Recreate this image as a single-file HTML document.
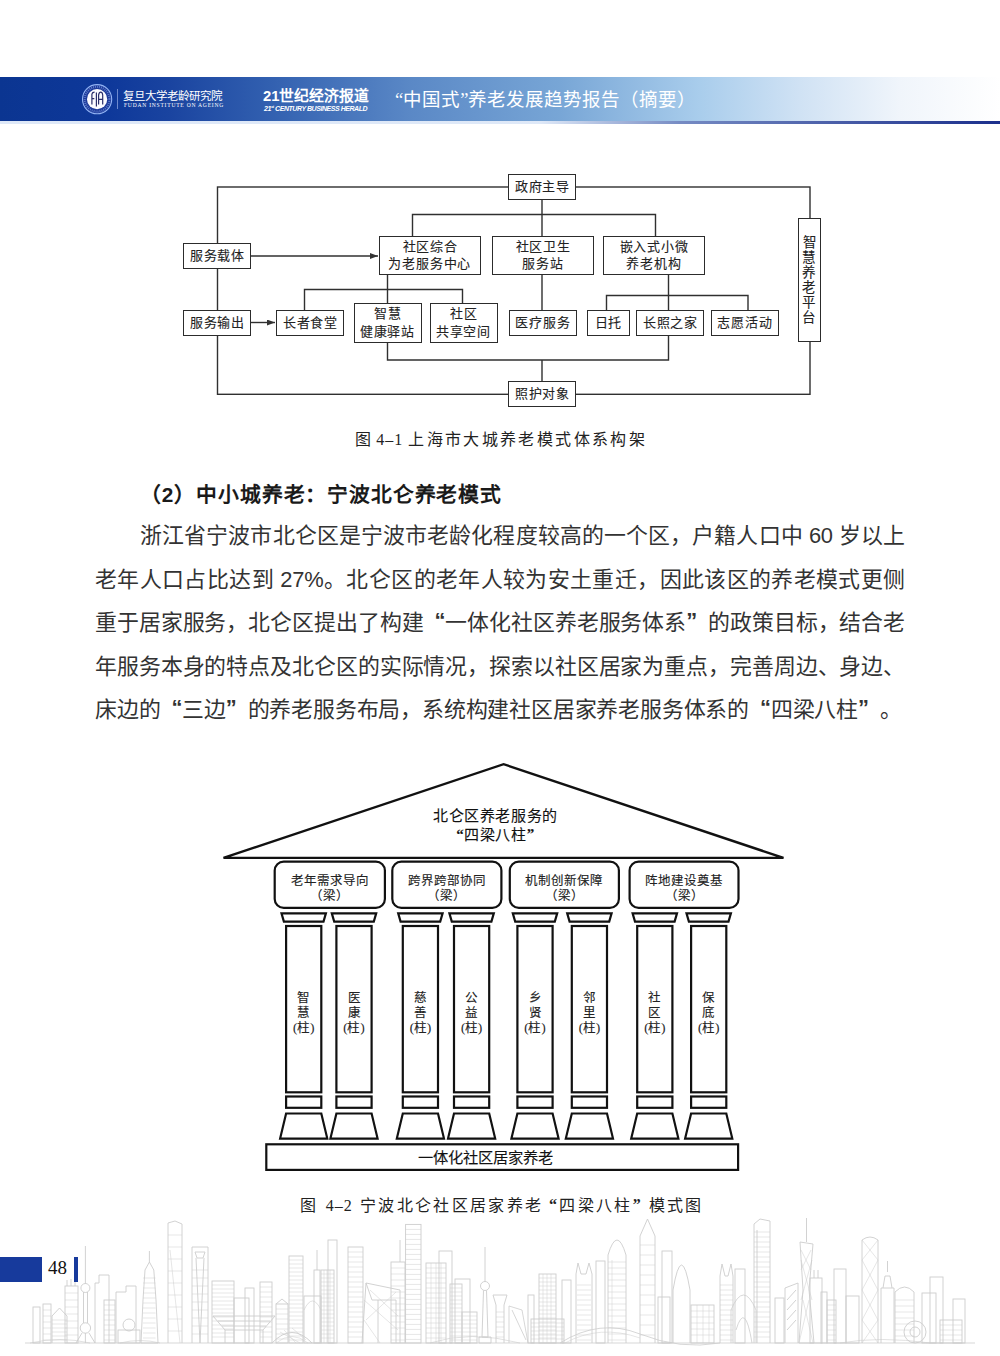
<!DOCTYPE html>
<html lang="zh-CN">
<head>
<meta charset="utf-8">
<style>
html,body{margin:0;padding:0;background:#fff;}
body{width:1000px;height:1356px;position:relative;overflow:hidden;font-family:"Liberation Sans",sans-serif;color:#222;}
.abs{position:absolute;}
#band{position:absolute;left:0;top:77px;width:1000px;height:44px;
 background:linear-gradient(to right,#0b3591 0px,#0e389a 110px,#1a44a0 170px,#3260b0 270px,#5a88c6 410px,#78a6d6 560px,#a9cdec 700px,#d0e2f4 800px,#f0f5fb 900px,#ffffff 1000px);}
#bandline{position:absolute;left:0;top:121px;width:1000px;height:2.5px;
 background:linear-gradient(to right,rgba(190,210,240,0.5) 0px,rgba(190,210,240,0.5) 540px,rgba(60,90,170,0.7) 680px,#1b2f8c 1000px);}
.wt{color:#fff;position:absolute;white-space:nowrap;}
.para{position:absolute;font-size:21.9px;line-height:26px;letter-spacing:-0.2px;color:#333;white-space:nowrap;text-align:justify;text-align-last:justify;}
.q1{display:inline-block;width:1em;text-align:right;text-align-last:right;}
.q2{display:inline-block;width:1em;text-align:left;text-align-last:left;}
.cap .q1,.cap .q2,.f2t .q1,.f2t .q2{font-weight:bold;position:relative;top:-1px;}
.para .q1,.para .q2{font-weight:bold;position:relative;top:-2px;font-size:1em;width:21.8px;}
.bx{position:absolute;box-sizing:border-box;border:1.6px solid #2c2c2c;background:#fff;font-family:"Liberation Serif",serif;font-size:13px;line-height:17.5px;letter-spacing:0.8px;text-indent:0.8px;color:#222;text-align:center;display:flex;align-items:center;justify-content:center;white-space:nowrap;-webkit-text-stroke:0.1px #222;}
.cap{position:absolute;font-family:"Liberation Serif",serif;font-size:16px;line-height:22px;letter-spacing:2.35px;color:#222;white-space:nowrap;}
.beam{position:absolute;box-sizing:border-box;border:2.3px solid #111;border-radius:10px;background:#fff;font-family:"Liberation Serif",serif;font-size:12.5px;line-height:15px;color:#222;text-align:center;padding-top:10px;}
.f2t{font-family:"Liberation Serif",serif;color:#222;white-space:nowrap;-webkit-text-stroke:0.12px #222;}
.ct{position:absolute;font-family:"Liberation Serif",serif;font-size:12.5px;line-height:15.5px;color:#222;text-align:center;width:40px;}
</style>
</head>
<body>
<!-- header -->
<div id="band"></div>
<div id="bandline"></div>
<svg class="abs" style="left:80px;top:82px" width="36" height="36" viewBox="0 0 36 36">
 <circle cx="17.1" cy="17.2" r="14.6" fill="#1d3a9a" stroke="#93b4f4" stroke-width="1.1"/>
 <circle cx="17.1" cy="17.2" r="12.4" fill="none" stroke="#6f8fd8" stroke-width="2.2" stroke-dasharray="0.9 1.1" opacity="0.8"/>
 <circle cx="17.1" cy="17.2" r="10.1" fill="#fbfbff"/>
 <path d="M11.9 22.6 V12.2 Q12.3 10.2 14.6 10.2 M11.9 16.6 H14.3 M16.4 24.4 V10.6 M18.6 22.6 V13 Q19.2 10.2 20.7 10.2 Q22.3 10.2 22.7 13 V22.6 M18.6 17.4 H22.7" stroke="#2b2f6a" stroke-width="1.2" fill="none"/>
</svg>
<div class="abs" style="left:117px;top:89px;width:1px;height:20px;background:rgba(170,190,240,0.6);"></div>
<div class="wt" style="left:123px;top:88.5px;font-family:'Liberation Serif',serif;font-size:11.5px;line-height:14px;letter-spacing:0px;">复旦大学老龄研究院</div>
<div class="wt" style="left:124px;top:102px;font-family:'Liberation Serif',serif;font-size:5.6px;line-height:7px;letter-spacing:0.75px;">FUDAN INSTITUTE ON AGEING</div>
<div class="wt" style="left:263px;top:87.5px;font-family:'Liberation Sans',sans-serif;font-weight:bold;font-size:14.8px;line-height:17px;">21世纪经济报道</div>
<div class="wt" style="left:264px;top:103.5px;font-family:'Liberation Sans',sans-serif;font-weight:bold;font-style:italic;font-size:7px;line-height:9px;letter-spacing:-0.45px;">21<sup style="font-size:4px;vertical-align:3px;line-height:0">st</sup> CENTURY BUSINESS HERALD</div>
<div class="wt" style="left:395px;top:89px;font-family:'Liberation Serif',serif;font-size:18.5px;line-height:22px;">“中国式”养老发展趋势报告（摘要）</div>

<!-- figure 1 -->
<svg class="abs" style="left:0;top:0" width="1000" height="450">
 <defs><marker id="ar" markerWidth="8" markerHeight="6" refX="8" refY="3" orient="auto" markerUnits="userSpaceOnUse"><path d="M0 0 L8 3 L0 6 Z" fill="#333"/></marker></defs>
 <g stroke="#303030" stroke-width="1.4" fill="none">
  <rect x="217.5" y="187" width="592.5" height="207.3"/>
  <line x1="251" y1="256" x2="378" y2="256" marker-end="url(#ar)"/>
  <line x1="251" y1="322.5" x2="275" y2="322.5" marker-end="url(#ar)"/>
  <line x1="542" y1="199" x2="542" y2="236"/>
  <line x1="542" y1="274" x2="542" y2="310"/>
  <line x1="542" y1="360" x2="542" y2="381"/>
  <polyline points="412.5,236 412.5,214.5 655.5,214.5 655.5,236"/>
  <polyline points="304.5,310 304.5,289.5 462.5,289.5 462.5,303"/>
  <line x1="387.5" y1="274" x2="387.5" y2="303"/>
  <polyline points="387.5,342 387.5,360 668.5,360 668.5,335"/>
  <line x1="668.5" y1="274" x2="668.5" y2="310"/>
  <polyline points="606.5,310 606.5,295.5 748,295.5 748,310"/>
 </g>
</svg>
<div class="bx" style="left:508px;top:174px;width:68px;height:25.5px;">政府主导</div>
<div class="bx" style="left:183px;top:243px;width:68px;height:25.5px;">服务载体</div>
<div class="bx" style="left:183px;top:310px;width:68px;height:25.5px;">服务输出</div>
<div class="bx" style="left:379px;top:236px;width:101.5px;height:38.5px;">社区综合<br>为老服务中心</div>
<div class="bx" style="left:492px;top:236px;width:101.5px;height:38.5px;">社区卫生<br>服务站</div>
<div class="bx" style="left:603px;top:236px;width:101.5px;height:38.5px;">嵌入式小微<br>养老机构</div>
<div class="bx" style="left:276px;top:310px;width:68px;height:25.5px;">长者食堂</div>
<div class="bx" style="left:353.5px;top:303px;width:68px;height:39.5px;">智慧<br>健康驿站</div>
<div class="bx" style="left:429.5px;top:303px;width:68px;height:39.5px;">社区<br>共享空间</div>
<div class="bx" style="left:508.5px;top:310px;width:68px;height:25.5px;">医疗服务</div>
<div class="bx" style="left:586.5px;top:310px;width:43px;height:25.5px;">日托</div>
<div class="bx" style="left:636px;top:310px;width:68px;height:25.5px;">长照之家</div>
<div class="bx" style="left:710.5px;top:310px;width:68px;height:25.5px;">志愿活动</div>
<div class="bx" style="left:797.5px;top:218px;width:23.5px;height:123.5px;line-height:15px;font-size:13.5px;">智<br>慧<br>养<br>老<br>平<br>台</div>
<div class="bx" style="left:508px;top:381px;width:68px;height:25.5px;">照护对象</div>
<div class="cap" style="left:355px;top:429px;">图<span style="margin-left:3px;margin-right:5px;font-family:'Liberation Serif',serif;letter-spacing:1px">4–1</span>上海市大城养老模式体系构架</div>

<!-- heading + paragraph -->
<div class="abs" style="left:140px;top:482.5px;font-size:20.8px;line-height:24px;letter-spacing:0.85px;font-weight:bold;color:#1a1a1a;white-space:nowrap;">（2）中小城养老：宁波北仑养老模式</div>
<div class="para" style="left:140px;top:523px;width:765px;">浙江省宁波市北仑区是宁波市老龄化程度较高的一个区，户籍人口中 60 岁以上</div>
<div class="para" style="left:95px;top:566.6px;width:810px;">老年人口占比达到 27%。北仑区的老年人较为安土重迁，因此该区的养老模式更侧</div>
<div class="para" style="left:95px;top:610.2px;width:810px;">重于居家服务，北仑区提出了构建<span class="q1">“</span>一体化社区养老服务体系<span class="q2">”</span>的政策目标，结合老</div>
<div class="para" style="left:95px;top:653.8px;width:810px;">年服务本身的特点及北仑区的实际情况，探索以社区居家为重点，完善周边、身边、</div>
<div class="para" style="left:95px;top:697.4px;width:810px;text-align-last:left;">床边的<span class="q1">“</span>三边<span class="q2">”</span>的养老服务布局，系统构建社区居家养老服务体系的<span class="q1">“</span>四梁八柱<span class="q2">”</span>。</div>

<!-- figure 2 -->
<svg class="abs" style="left:0;top:0" width="1000" height="1200">
<g stroke="#111" stroke-width="2.2" fill="none" stroke-linejoin="miter">
<polygon points="223.5,857.9 503.6,764.2 783.5,857.9" stroke-width="2.4"/>
<rect x="274.7" y="861.6" width="110.2" height="46.3" rx="9" ry="9"/>
<rect x="392.3" y="861.6" width="109.1" height="46.3" rx="9" ry="9"/>
<rect x="509.8" y="861.6" width="109.1" height="46.3" rx="9" ry="9"/>
<rect x="629.6" y="861.6" width="108.9" height="46.3" rx="9" ry="9"/>
<polygon points="281.5,913.4 325.9,913.4 323.5,921.6 283.9,921.6"/>
<rect x="286.1" y="926" width="35.2" height="166.3"/>
<rect x="286.1" y="1096.5" width="35.2" height="11.3"/>
<polygon points="286.1,1113.5 321.3,1113.5 327.3,1138.6 280.1,1138.6"/>
<polygon points="331.8,913.4 376.2,913.4 373.8,921.6 334.2,921.6"/>
<rect x="336.4" y="926" width="35.2" height="166.3"/>
<rect x="336.4" y="1096.5" width="35.2" height="11.3"/>
<polygon points="336.4,1113.5 371.6,1113.5 377.6,1138.6 330.4,1138.6"/>
<polygon points="398.2,913.4 442.6,913.4 440.2,921.6 400.6,921.6"/>
<rect x="402.8" y="926" width="35.2" height="166.3"/>
<rect x="402.8" y="1096.5" width="35.2" height="11.3"/>
<polygon points="402.8,1113.5 438.0,1113.5 444.0,1138.6 396.8,1138.6"/>
<polygon points="449.4,913.4 493.8,913.4 491.4,921.6 451.8,921.6"/>
<rect x="454.0" y="926" width="35.2" height="166.3"/>
<rect x="454.0" y="1096.5" width="35.2" height="11.3"/>
<polygon points="454.0,1113.5 489.2,1113.5 495.2,1138.6 448.0,1138.6"/>
<polygon points="512.8,913.4 557.2,913.4 554.8,921.6 515.2,921.6"/>
<rect x="517.4" y="926" width="35.2" height="166.3"/>
<rect x="517.4" y="1096.5" width="35.2" height="11.3"/>
<polygon points="517.4,1113.5 552.6,1113.5 558.6,1138.6 511.4,1138.6"/>
<polygon points="567.2,913.4 611.6,913.4 609.2,921.6 569.6,921.6"/>
<rect x="571.8" y="926" width="35.2" height="166.3"/>
<rect x="571.8" y="1096.5" width="35.2" height="11.3"/>
<polygon points="571.8,1113.5 607.0,1113.5 613.0,1138.6 565.8,1138.6"/>
<polygon points="632.6,913.4 677.0,913.4 674.6,921.6 635.0,921.6"/>
<rect x="637.2" y="926" width="35.2" height="166.3"/>
<rect x="637.2" y="1096.5" width="35.2" height="11.3"/>
<polygon points="637.2,1113.5 672.4,1113.5 678.4,1138.6 631.2,1138.6"/>
<polygon points="686.5,913.4 730.9,913.4 728.5,921.6 688.9,921.6"/>
<rect x="691.1" y="926" width="35.2" height="166.3"/>
<rect x="691.1" y="1096.5" width="35.2" height="11.3"/>
<polygon points="691.1,1113.5 726.3,1113.5 732.3,1138.6 685.1,1138.6"/>
<rect x="266.3" y="1144.3" width="471.8" height="25.6"/>
</g></svg>
<div class="abs f2t" style="left:395.5px;top:806.5px;width:200px;text-align:center;font-size:15px;line-height:19px;letter-spacing:0.6px;color:#111;">北仑区养老服务的<br><span class="q1">“</span>四梁八柱<span class="q2">”</span></div>
<div class="abs f2t" style="left:273.6px;top:874px;width:112.4px;text-align:center;font-size:12.5px;line-height:15px;">老年需求导向<br>（梁）</div>
<div class="abs f2t" style="left:391.2px;top:874px;width:111.3px;text-align:center;font-size:12.5px;line-height:15px;">跨界跨部协同<br>（梁）</div>
<div class="abs f2t" style="left:508.7px;top:874px;width:111.3px;text-align:center;font-size:12.5px;line-height:15px;">机制创新保障<br>（梁）</div>
<div class="abs f2t" style="left:628.5px;top:874px;width:111.1px;text-align:center;font-size:12.5px;line-height:15px;">阵地建设奠基<br>（梁）</div>
<div class="abs f2t" style="left:283.7px;top:990.5px;width:40px;text-align:center;font-size:12.5px;line-height:15px;">智<br>慧<br>(柱)</div>
<div class="abs f2t" style="left:334.0px;top:990.5px;width:40px;text-align:center;font-size:12.5px;line-height:15px;">医<br>康<br>(柱)</div>
<div class="abs f2t" style="left:400.4px;top:990.5px;width:40px;text-align:center;font-size:12.5px;line-height:15px;">慈<br>善<br>(柱)</div>
<div class="abs f2t" style="left:451.6px;top:990.5px;width:40px;text-align:center;font-size:12.5px;line-height:15px;">公<br>益<br>(柱)</div>
<div class="abs f2t" style="left:515.0px;top:990.5px;width:40px;text-align:center;font-size:12.5px;line-height:15px;">乡<br>贤<br>(柱)</div>
<div class="abs f2t" style="left:569.4px;top:990.5px;width:40px;text-align:center;font-size:12.5px;line-height:15px;">邻<br>里<br>(柱)</div>
<div class="abs f2t" style="left:634.8px;top:990.5px;width:40px;text-align:center;font-size:12.5px;line-height:15px;">社<br>区<br>(柱)</div>
<div class="abs f2t" style="left:688.7px;top:990.5px;width:40px;text-align:center;font-size:12.5px;line-height:15px;">保<br>底<br>(柱)</div>
<div class="abs f2t" style="left:400px;top:1148.5px;width:170px;text-align:center;font-size:15.3px;line-height:18px;color:#111;">一体化社区居家养老</div>
<div class="cap" style="left:299.5px;top:1195px;">图<span style="margin-left:8px;margin-right:7px;font-family:'Liberation Serif',serif;letter-spacing:1px">4–2</span>宁波北仑社区居家养老<span class="q1">“</span>四梁八柱<span class="q2">”</span>模式图</div>

<!-- skyline -->
<svg class="abs" style="left:0;top:0" width="1000" height="1356"><g stroke="#cdcdcd" stroke-width="0.9" fill="none"><rect x="33" y="1307" width="7" height="36"/><rect x="43" y="1304" width="8" height="39"/><path d="M43 1310.0H51M43 1316.0H51M43 1322.0H51M43 1328.0H51M43 1334.0H51M43 1340.0H51" stroke-width="0.5"/><path d="M52 1343V1316L59.5 1308L67 1316V1343"/><path d="M52 1320.0H67M52 1324.0H67M52 1328.0H67M52 1332.0H67M52 1336.0H67M52 1340.0H67" stroke-width="0.5"/><rect x="65" y="1286" width="13" height="57"/><path d="M65 1293.0H78M65 1300.0H78M65 1307.0H78M65 1314.0H78M65 1321.0H78M65 1328.0H78M65 1335.0H78" stroke-width="0.5"/><path d="M67 1286V1280M71 1286V1279M75 1286V1281"/><path d="M85.4 1246V1284M83.5 1292V1323M87.5 1292V1323M82 1333L76 1343M89 1333L95 1343M85.4 1333V1343"/><circle cx="85.4" cy="1288" r="4.5"/><circle cx="85.4" cy="1328" r="5.2"/><path d="M95 1343V1283L99 1283V1275H109V1343"/><rect x="104" y="1300" width="11" height="43"/><path d="M104 1305.0H115M104 1310.0H115M104 1315.0H115M104 1320.0H115M104 1325.0H115M104 1330.0H115M104 1335.0H115M104 1340.0H115" stroke-width="0.5"/><path d="M116 1343V1292H126V1286H136V1343"/><circle cx="129" cy="1325" r="6"/><rect x="118" y="1330" width="22" height="13"/><path d="M149.4 1251V1262M145 1270L149.4 1262L153.8 1270L156 1300L158 1343H141L143 1300Z"/><path d="M143 1278.0H155.5M143 1283.0H155.5M143 1288.0H155.5M143 1293.0H155.5M143 1298.0H155.5M143 1303.0H155.5M143 1308.0H155.5M143 1313.0H155.5M143 1318.0H155.5M143 1323.0H155.5M143 1328.0H155.5M143 1333.0H155.5M143 1338.0H155.5" stroke-width="0.5"/><path d="M168 1343V1223L175 1221L182 1224V1343"/><path d="M170 1250L180 1343" stroke-width="0.5"/><path d="M168 1235.0H182M168 1247.0H182M168 1259.0H182M168 1271.0H182M168 1283.0H182M168 1295.0H182M168 1307.0H182M168 1319.0H182M168 1331.0H182" stroke-width="0.5"/><path d="M192 1343V1247H208V1343M195 1252H205L203 1258H197ZM196 1258L200 1343M204 1258L200 1343"/><path d="M192 1270.0H208M192 1278.0H208M192 1286.0H208M192 1294.0H208M192 1302.0H208M192 1310.0H208M192 1318.0H208M192 1326.0H208M192 1334.0H208" stroke-width="0.5"/><rect x="212" y="1281" width="22" height="62"/><path d="M212 1285.0H234M212 1289.0H234M212 1293.0H234M212 1297.0H234M212 1301.0H234M212 1305.0H234M212 1309.0H234M212 1313.0H234M212 1317.0H234M212 1321.0H234M212 1325.0H234M212 1329.0H234M212 1333.0H234M212 1337.0H234" stroke-width="0.5"/><rect x="234" y="1298" width="15" height="45"/><rect x="245" y="1288" width="9" height="55"/><rect x="260" y="1282" width="12" height="61"/><path d="M260 1287.0H272M260 1292.0H272M260 1297.0H272M260 1302.0H272M260 1307.0H272M260 1312.0H272M260 1317.0H272M260 1322.0H272M260 1327.0H272M260 1332.0H272M260 1337.0H272" stroke-width="0.5"/><path d="M213 1316H275L263 1330H225ZM225 1330V1343M263 1330V1343M218 1321H270M222 1326H266"/><path d="M272 1343Q292 1322 312 1343"/><path d="M276 1343Q292 1330 308 1343M280 1332L300 1343M292 1328L306 1340M284 1330L296 1343" stroke-width="0.5"/><rect x="276" y="1304" width="12" height="39"/><path d="M276 1309.0H288M276 1314.0H288M276 1319.0H288M276 1324.0H288M276 1329.0H288M276 1334.0H288M276 1339.0H288" stroke-width="0.5"/><path d="M276 1304L282 1299L288 1304"/><rect x="289" y="1256" width="14" height="87"/><path d="M289 1260.0H303M289 1264.0H303M289 1268.0H303M289 1272.0H303M289 1276.0H303M289 1280.0H303M289 1284.0H303M289 1288.0H303M289 1292.0H303M289 1296.0H303M289 1300.0H303M289 1304.0H303M289 1308.0H303M289 1312.0H303M289 1316.0H303M289 1320.0H303M289 1324.0H303M289 1328.0H303M289 1332.0H303M289 1336.0H303M289 1340.0H303" stroke-width="0.5"/><rect x="304" y="1296" width="17" height="47"/><path d="M304 1310Q312.5 1292 321 1310" stroke-width="0.6"/><rect x="314" y="1270" width="6" height="73"/><path d="M317 1270V1250"/><rect x="321" y="1270" width="13" height="73"/><path d="M321 1274.0H334M321 1278.0H334M321 1282.0H334M321 1286.0H334M321 1290.0H334M321 1294.0H334M321 1298.0H334M321 1302.0H334M321 1306.0H334M321 1310.0H334M321 1314.0H334M321 1318.0H334M321 1322.0H334M321 1326.0H334M321 1330.0H334M321 1334.0H334M321 1338.0H334" stroke-width="0.5"/><path d="M324.0 1270V1343M327.0 1270V1343M330.0 1270V1343" stroke-width="0.5"/><rect x="328" y="1240" width="9" height="103"/><rect x="348" y="1247" width="15" height="96"/><path d="M348 1252.0H363M348 1257.0H363M348 1262.0H363M348 1267.0H363M348 1272.0H363M348 1277.0H363M348 1282.0H363M348 1287.0H363M348 1292.0H363M348 1297.0H363M348 1302.0H363M348 1307.0H363M348 1312.0H363M348 1317.0H363M348 1322.0H363M348 1327.0H363M348 1332.0H363M348 1337.0H363" stroke-width="0.5"/><path d="M362 1343L366 1283L400 1290V1343M366 1283L372 1300H396V1343M378 1300V1343"/><path d="M364 1300L398 1330M366 1320L396 1292M364 1320L380 1343M370 1290L398 1316" stroke-width="0.5"/><rect x="391" y="1262" width="14" height="81"/><path d="M391 1268.0H405M391 1274.0H405M391 1280.0H405M391 1286.0H405M391 1292.0H405M391 1298.0H405M391 1304.0H405M391 1310.0H405M391 1316.0H405M391 1322.0H405M391 1328.0H405M391 1334.0H405M391 1340.0H405" stroke-width="0.5"/><path d="M400 1262V1240"/><rect x="405.6" y="1224.4" width="15.399999999999977" height="118.59999999999991"/><path d="M405.6 1229.4H421M405.6 1234.4H421M405.6 1239.4H421M405.6 1244.4H421M405.6 1249.4H421M405.6 1254.4H421M405.6 1259.4H421M405.6 1264.4H421M405.6 1269.4H421M405.6 1274.4H421M405.6 1279.4H421M405.6 1284.4H421M405.6 1289.4H421M405.6 1294.4H421M405.6 1299.4H421M405.6 1304.4H421M405.6 1309.4H421M405.6 1314.4H421M405.6 1319.4H421M405.6 1324.4H421M405.6 1329.4H421M405.6 1334.4H421M405.6 1339.4H421" stroke-width="0.5"/><rect x="426" y="1263" width="20" height="80"/><path d="M426 1268.0H446M426 1273.0H446M426 1278.0H446M426 1283.0H446M426 1288.0H446M426 1293.0H446M426 1298.0H446M426 1303.0H446M426 1308.0H446M426 1313.0H446M426 1318.0H446M426 1323.0H446M426 1328.0H446M426 1333.0H446M426 1338.0H446" stroke-width="0.5"/><path d="M431.0 1263V1343M436.0 1263V1343M441.0 1263V1343" stroke-width="0.5"/><rect x="439" y="1251" width="13" height="92"/><rect x="450" y="1284" width="12" height="59"/><path d="M450 1288.0H462M450 1292.0H462M450 1296.0H462M450 1300.0H462M450 1304.0H462M450 1308.0H462M450 1312.0H462M450 1316.0H462M450 1320.0H462M450 1324.0H462M450 1328.0H462M450 1332.0H462M450 1336.0H462M450 1340.0H462" stroke-width="0.5"/><rect x="455" y="1279" width="15" height="64"/><rect x="462" y="1312" width="15" height="31"/><path d="M462 1316.0H477M462 1320.0H477M462 1324.0H477M462 1328.0H477M462 1332.0H477M462 1336.0H477M462 1340.0H477" stroke-width="0.5"/><path d="M485 1247V1282M483.5 1290.5L482 1337H488L486.5 1290.5M479 1337H491V1343H479Z"/><circle cx="485" cy="1286" r="4.5"/><path d="M493 1295H507L504 1305V1343M496 1305V1343M493 1295L496 1305"/><path d="M496 1312.0H504M496 1317.0H504M496 1322.0H504M496 1327.0H504M496 1332.0H504M496 1337.0H504" stroke-width="0.5"/><path d="M509 1343V1306L522 1310L528 1343M512 1310L526 1340" stroke-width="0.8"/><rect x="528" y="1295" width="6" height="48"/><rect x="539" y="1274" width="17" height="69"/><path d="M539 1278.0H556M539 1282.0H556M539 1286.0H556M539 1290.0H556M539 1294.0H556M539 1298.0H556M539 1302.0H556M539 1306.0H556M539 1310.0H556M539 1314.0H556M539 1318.0H556M539 1322.0H556M539 1326.0H556M539 1330.0H556M539 1334.0H556M539 1338.0H556" stroke-width="0.5"/><path d="M543.0 1274V1343M547.0 1274V1343M551.0 1274V1343" stroke-width="0.5"/><rect x="531" y="1319" width="33" height="24"/><path d="M531 1323.0H564M531 1327.0H564M531 1331.0H564M531 1335.0H564M531 1339.0H564" stroke-width="0.5"/><rect x="562" y="1280" width="9" height="63"/><path d="M576 1343V1274L578 1263L581 1274H586L589 1263L592 1274V1343"/><path d="M577 1285.0H591M577 1290.0H591M577 1295.0H591M577 1300.0H591M577 1305.0H591M577 1310.0H591M577 1315.0H591M577 1320.0H591M577 1325.0H591M577 1330.0H591M577 1335.0H591M577 1340.0H591" stroke-width="0.5"/><path d="M560 1343Q600 1318 640 1334T720 1343" stroke-width="0.8"/><path d="M565 1343Q600 1324 640 1338" stroke-width="0.5"/><rect x="596" y="1261" width="9" height="82"/><path d="M608 1343V1255Q617 1225 626 1255V1343"/><path d="M612 1260V1343" stroke-width="0.5"/><path d="M608 1262.0H626M608 1268.0H626M608 1274.0H626M608 1280.0H626M608 1286.0H626M608 1292.0H626M608 1298.0H626M608 1304.0H626M608 1310.0H626M608 1316.0H626M608 1322.0H626M608 1328.0H626M608 1334.0H626M608 1340.0H626" stroke-width="0.5"/><path d="M640 1343V1236L647.5 1219L655 1236V1343"/><path d="M640 1245.0H655M640 1255.0H655M640 1265.0H655M640 1275.0H655M640 1285.0H655M640 1295.0H655M640 1305.0H655M640 1315.0H655M640 1325.0H655M640 1335.0H655" stroke-width="0.5"/><rect x="662" y="1251" width="10" height="92"/><rect x="658" y="1297" width="12" height="46"/><path d="M673 1343V1290Q681.5 1240 690 1290V1343"/><rect x="691" y="1305" width="23" height="38"/><path d="M691 1311.0H714M691 1317.0H714M691 1323.0H714M691 1329.0H714M691 1335.0H714" stroke-width="0.5"/><path d="M697.0 1305V1343M703.0 1305V1343M709.0 1305V1343" stroke-width="0.5"/><path d="M720 1343V1276L722 1264L725 1276H728L731 1264L733 1276V1343"/><path d="M720 1285.0H733M720 1290.0H733M720 1295.0H733M720 1300.0H733M720 1305.0H733M720 1310.0H733M720 1315.0H733M720 1320.0H733M720 1325.0H733M720 1330.0H733M720 1335.0H733M720 1340.0H733" stroke-width="0.5"/><rect x="735" y="1269" width="10" height="74"/><path d="M731 1343V1310Q743.5 1280 756 1310V1343M736 1330Q745 1300 752 1343" stroke-width="0.8"/><path d="M754 1343V1224L760 1219L770 1221V1343M757 1230V1343"/><path d="M754 1232.0H770M754 1237.0H770M754 1242.0H770M754 1247.0H770M754 1252.0H770M754 1257.0H770M754 1262.0H770M754 1267.0H770M754 1272.0H770M754 1277.0H770M754 1282.0H770M754 1287.0H770M754 1292.0H770M754 1297.0H770M754 1302.0H770M754 1307.0H770M754 1312.0H770M754 1317.0H770M754 1322.0H770M754 1327.0H770M754 1332.0H770M754 1337.0H770" stroke-width="0.5"/><rect x="775" y="1298" width="9" height="45"/><path d="M785 1343V1288L798 1283V1343M787 1300L796 1290M787 1320L796 1310M787 1310L796 1300M787 1330L796 1320"/><path d="M806.5 1218V1242M800 1242L813 1244L809 1290L814 1343H799L803 1290Z"/><path d="M801 1260L812 1300M812 1260L801 1300M803 1300L813 1343M809 1300L799 1343M801 1250L811 1270M811 1250L801 1270" stroke-width="0.5"/><rect x="810" y="1278" width="12" height="65"/><path d="M814 1278V1270M818 1278V1270"/><rect x="821" y="1292" width="6" height="51"/><rect x="834" y="1269" width="12" height="74"/><rect x="827" y="1300" width="9" height="43"/><path d="M827 1305.0H836M827 1310.0H836M827 1315.0H836M827 1320.0H836M827 1325.0H836M827 1330.0H836M827 1335.0H836M827 1340.0H836" stroke-width="0.5"/><rect x="846" y="1296" width="13" height="47"/><path d="M862 1343V1240Q870 1234 878 1240V1343"/><path d="M862 1260L878 1290L862 1320M878 1260L862 1290L878 1320M862 1240L878 1260M878 1240L862 1260M862 1320L878 1343M878 1320L862 1343" stroke-width="0.5"/><path d="M887.5 1261V1272M883 1288L885 1276H890L892 1288M881 1343V1288H894V1343"/><path d="M895 1343V1292Q904.5 1282 914 1292V1343"/><path d="M895 1300.0H914M895 1306.0H914M895 1312.0H914M895 1318.0H914M895 1324.0H914M895 1330.0H914M895 1336.0H914" stroke-width="0.5"/><circle cx="915" cy="1332" r="11"/><circle cx="915" cy="1332" r="5"/><rect x="922" y="1293" width="14" height="50"/><rect x="930" y="1277" width="13" height="66"/><rect x="953" y="1299" width="12" height="44"/><rect x="940" y="1320" width="22" height="23"/><path d="M940 1325.0H962M940 1330.0H962M940 1335.0H962M940 1340.0H962" stroke-width="0.5"/><path d="M25 1343H975" stroke-width="0.8"/><path d="M30 1343Q60 1336 90 1343M120 1343Q140 1338 160 1343M430 1343Q470 1330 520 1343M840 1343Q880 1336 930 1343" stroke-width="0.6"/></g></svg>
<!-- /skyline -->
<!-- page number -->
<div class="abs" style="left:0;top:1257px;width:42px;height:25px;background:#173a9c;"></div>
<div class="abs" style="left:48px;top:1255px;font-family:'Liberation Serif',serif;font-size:19px;line-height:26px;color:#111;">48</div>
<div class="abs" style="left:74px;top:1257px;width:4px;height:25px;background:#173a9c;"></div>

</body>
</html>
